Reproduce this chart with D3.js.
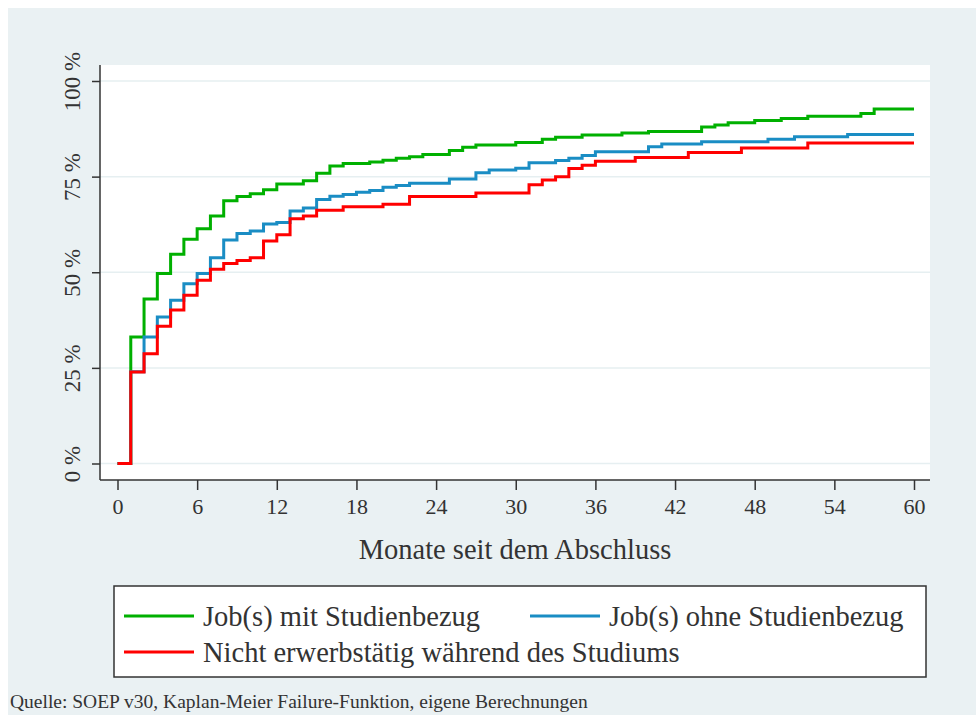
<!DOCTYPE html>
<html>
<head>
<meta charset="utf-8">
<script src="https://cdn.jsdelivr.net/npm/d3@7"></script>
<style>
  body { margin: 0; background: #fff; }
  svg { display: block; }
  text { font-family: "Liberation Serif", "DejaVu Serif", serif; fill: #333; }
</style>
</head>
<body>
<svg id="chart" width="976" height="715"></svg>
<script>
// Kaplan-Meier failure: months since graduation (step points) and share employed (%)
var greenMonths = [0, 1, 2, 3, 4, 5, 6, 7, 8, 9, 10, 11, 12, 14, 15, 16, 17, 19, 20, 21, 22, 23, 25, 26, 27, 30, 32, 33, 35, 38, 40, 44, 45, 46, 48, 50, 52, 56, 57, 60];
var greenValues = [0, 33.1, 43.0, 49.7, 54.7, 58.6, 61.4, 64.7, 68.7, 69.8, 70.5, 71.6, 73.1, 73.9, 75.9, 77.8, 78.4, 78.8, 79.3, 79.8, 80.2, 80.8, 81.8, 82.7, 83.3, 83.9, 84.8, 85.3, 85.9, 86.4, 86.8, 88.0, 88.5, 89.1, 89.7, 90.2, 90.8, 91.5, 92.7, 92.7];

var blueMonths = [0, 1, 2, 3, 4, 5, 6, 7, 8, 9, 10, 11, 12, 13, 14, 15, 16, 17, 18, 19, 20, 21, 22, 25, 27, 28, 30, 31, 33, 34, 35, 36, 40, 41, 44, 49, 51, 55, 60];
var blueValues = [0, 24.0, 33.1, 38.3, 42.7, 47.0, 49.7, 53.8, 58.4, 60.1, 60.8, 62.6, 63.0, 66.0, 66.8, 69.0, 69.9, 70.3, 70.9, 71.4, 72.2, 72.7, 73.3, 74.4, 76.0, 76.7, 77.2, 78.6, 79.2, 79.8, 80.5, 81.5, 82.8, 83.5, 84.1, 84.8, 85.4, 86.0, 86.0];

var redMonths = [0, 1, 2, 3, 4, 5, 6, 7, 8, 9, 10, 11, 12, 13, 14, 15, 17, 20, 22, 27, 31, 32, 33, 34, 35, 36, 39, 43, 47, 52, 60];
var redValues = [0, 23.9, 28.7, 35.9, 40.1, 44.0, 47.9, 50.8, 52.3, 53.1, 53.8, 58.2, 59.8, 64.0, 64.7, 66.2, 67.1, 67.8, 69.8, 70.7, 72.9, 74.1, 75.0, 77.1, 78.0, 79.0, 80.0, 81.3, 82.5, 83.8, 83.8];

var seriesNames = ["Job(s) mit Studienbezug", "Job(s) ohne Studienbezug", "Nicht erwerbstätig während des Studiums"];
var seriesColors = ["#00b000", "#1a8dc4", "#ff0000"];

var xTicks = [0, 6, 12, 18, 24, 30, 36, 42, 48, 54, 60];
var yTicks = [0, 25, 50, 75, 100];

var xTitle = "Monate seit dem Abschluss";
var sourceNote = "Quelle: SOEP v30, Kaplan-Meier Failure-Funktion, eigene Berechnungen";

var series = [
  { name: seriesNames[0], color: seriesColors[0], months: greenMonths, values: greenValues },
  { name: seriesNames[1], color: seriesColors[1], months: blueMonths, values: blueValues },
  { name: seriesNames[2], color: seriesColors[2], months: redMonths, values: redValues }
];

var svg = d3.select("#chart");

// grey panel
svg.append("rect")
  .attr("x", 8).attr("y", 8)
  .attr("width", 968).attr("height", 707)
  .attr("fill", "#eaf1f3");

var plot = { left: 100, top: 65, right: 930, bottom: 480 };

svg.append("rect")
  .attr("x", plot.left).attr("y", plot.top)
  .attr("width", plot.right - plot.left).attr("height", plot.bottom - plot.top)
  .attr("fill", "#fff");

var x = d3.scaleLinear().domain([0, 60]).range([117.5, 914]);
var y = d3.scaleLinear().domain([0, 100]).range([463.5, 81]);

// grid lines
svg.append("g")
  .selectAll("line")
  .data(yTicks)
  .enter()
  .append("line")
  .attr("x1", plot.left).attr("x2", plot.right)
  .attr("y1", function(d) { return y(d); })
  .attr("y2", function(d) { return y(d); })
  .attr("stroke", "#e6eff1")
  .attr("stroke-width", 1.5);

// curves
var line = d3.line()
  .x(function(d) { return x(d[0]); })
  .y(function(d) { return y(d[1]); })
  .curve(d3.curveStepAfter);

series.forEach(function(s) {
  var pts = s.months.map(function(m, i) { return [m, s.values[i]]; });
  svg.append("path")
    .attr("d", line(pts))
    .attr("fill", "none")
    .attr("stroke", s.color)
    .attr("stroke-width", 3)
    .attr("stroke-linejoin", "miter");
});

// y axis
var yAxis = svg.append("g")
  .attr("transform", "translate(" + plot.left + ",0)")
  .call(d3.axisLeft(y).tickValues(yTicks).tickSize(8).tickFormat(function(d) { return d + " %"; }));
yAxis.select(".domain").remove();
yAxis.selectAll(".tick line").attr("stroke", "#333").attr("stroke-width", 1.5);
yAxis.selectAll(".tick text")
  .attr("x", null).attr("dy", null)
  .attr("text-anchor", "middle")
  .attr("transform", "translate(-20,0) rotate(-90)")
  .style("font-size", "23px")
  .style("font-family", "Liberation Serif, serif")
  .attr("fill", "#333");
svg.append("line")
  .attr("x1", plot.left).attr("x2", plot.left)
  .attr("y1", plot.top).attr("y2", plot.bottom)
  .attr("stroke", "#333").attr("stroke-width", 1.5);

// x axis
var xAxis = svg.append("g")
  .attr("transform", "translate(0," + plot.bottom + ")")
  .call(d3.axisBottom(x).tickValues(xTicks).tickSize(10).tickPadding(8));
xAxis.select(".domain").remove();
xAxis.selectAll(".tick line").attr("stroke", "#333").attr("stroke-width", 1.5);
xAxis.selectAll(".tick text")
  .style("font-size", "22px")
  .style("font-family", "Liberation Serif, serif")
  .attr("fill", "#333");
svg.append("line")
  .attr("x1", plot.left).attr("x2", plot.right)
  .attr("y1", plot.bottom).attr("y2", plot.bottom)
  .attr("stroke", "#333").attr("stroke-width", 1.5);

svg.append("text")
  .attr("x", (plot.left + plot.right) / 2)
  .attr("y", 559)
  .attr("text-anchor", "middle")
  .style("font-size", "28.5px")
  .text(xTitle);

// legend
var legend = svg.append("g");
legend.append("rect")
  .attr("x", 114).attr("y", 586)
  .attr("width", 812).attr("height", 91)
  .attr("fill", "#fff")
  .attr("stroke", "#333")
  .attr("stroke-width", 1.5);

var legendPos = [[124, 616], [530, 616], [124, 652]];
series.forEach(function(s, i) {
  var p = legendPos[i];
  legend.append("line")
    .attr("x1", p[0]).attr("x2", p[0] + 70)
    .attr("y1", p[1]).attr("y2", p[1])
    .attr("stroke", s.color)
    .attr("stroke-width", 3);
  legend.append("text")
    .attr("x", p[0] + 79)
    .attr("y", p[1] + 10)
    .style("font-size", "28.5px")
    .text(s.name);
});

svg.append("text")
  .attr("x", 10)
  .attr("y", 708)
  .style("font-size", "19.5px")
  .text(sourceNote);
</script>
</body>
</html>
